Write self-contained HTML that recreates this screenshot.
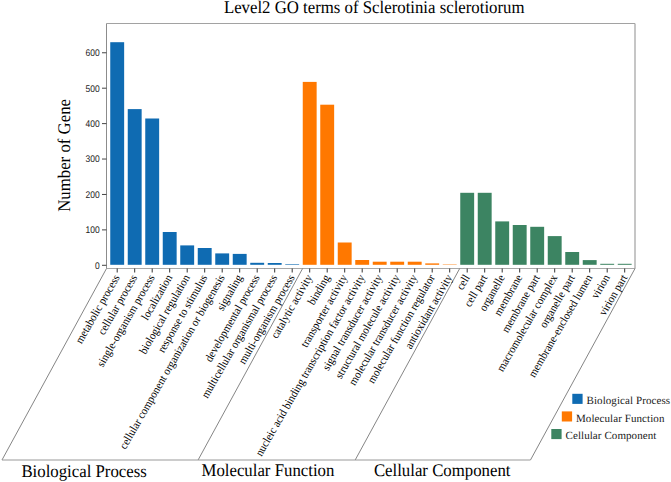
<!DOCTYPE html>
<html><head><meta charset="utf-8"><style>
html,body{margin:0;padding:0;background:#fff;width:671px;height:482px;overflow:hidden}
svg{display:block} text{text-rendering:geometricPrecision}
.big{font-family:"Liberation Serif",serif;font-size:16.8px;fill:#000}
.xl{font-family:"Liberation Serif",serif;font-size:10.85px;fill:#000}
.lg{font-family:"Liberation Serif",serif;font-size:11px;fill:#1a1a1a;letter-spacing:0.08px}
.yt{font-family:"Liberation Sans",sans-serif;font-size:9px;fill:#1a1a1a}
</style></head><body>
<svg width="671" height="482" viewBox="0 0 671 482">
<rect x="110.25" y="42.20" width="13.9" height="222.60" fill="#0f6bb2"/>
<rect x="127.75" y="109.10" width="13.9" height="155.70" fill="#0f6bb2"/>
<rect x="145.25" y="118.50" width="13.9" height="146.30" fill="#0f6bb2"/>
<rect x="162.75" y="232.00" width="13.9" height="32.80" fill="#0f6bb2"/>
<rect x="180.25" y="245.40" width="13.9" height="19.40" fill="#0f6bb2"/>
<rect x="197.75" y="248.00" width="13.9" height="16.80" fill="#0f6bb2"/>
<rect x="215.25" y="253.40" width="13.9" height="11.40" fill="#0f6bb2"/>
<rect x="232.75" y="253.90" width="13.9" height="10.90" fill="#0f6bb2"/>
<rect x="250.25" y="262.80" width="13.9" height="2.00" fill="#0f6bb2"/>
<rect x="267.75" y="263.00" width="13.9" height="1.80" fill="#0f6bb2"/>
<rect x="285.25" y="264.20" width="13.9" height="0.60" fill="#0f6bb2"/>
<rect x="302.75" y="81.90" width="13.9" height="182.90" fill="#ff7800"/>
<rect x="320.25" y="104.70" width="13.9" height="160.10" fill="#ff7800"/>
<rect x="337.75" y="242.50" width="13.9" height="22.30" fill="#ff7800"/>
<rect x="355.25" y="260.00" width="13.9" height="4.80" fill="#ff7800"/>
<rect x="372.75" y="261.70" width="13.9" height="3.10" fill="#ff7800"/>
<rect x="390.25" y="261.70" width="13.9" height="3.10" fill="#ff7800"/>
<rect x="407.75" y="261.70" width="13.9" height="3.10" fill="#ff7800"/>
<rect x="425.25" y="263.40" width="13.9" height="1.40" fill="#ff7800"/>
<rect x="442.75" y="264.40" width="13.9" height="0.40" fill="#ff7800"/>
<rect x="460.25" y="192.80" width="13.9" height="72.00" fill="#3c8462"/>
<rect x="477.75" y="192.80" width="13.9" height="72.00" fill="#3c8462"/>
<rect x="495.25" y="221.40" width="13.9" height="43.40" fill="#3c8462"/>
<rect x="512.75" y="225.00" width="13.9" height="39.80" fill="#3c8462"/>
<rect x="530.25" y="226.80" width="13.9" height="38.00" fill="#3c8462"/>
<rect x="547.75" y="236.10" width="13.9" height="28.70" fill="#3c8462"/>
<rect x="565.25" y="252.00" width="13.9" height="12.80" fill="#3c8462"/>
<rect x="582.75" y="260.10" width="13.9" height="4.70" fill="#3c8462"/>
<rect x="600.25" y="263.80" width="13.9" height="1.00" fill="#3c8462"/>
<rect x="617.75" y="263.80" width="13.9" height="1.00" fill="#3c8462"/>
<path d="M106.5,23.5 H635.0" stroke="#a2a2a2" stroke-width="1" fill="none"/>
<path d="M635.0,23.5 V268.5" stroke="#a8a8a8" stroke-width="1.3" fill="none"/>
<path d="M106.5,23.5 V268.5" stroke="#8c8c8c" stroke-width="1" fill="none"/>
<path d="M106.5,268.5 H635.0" stroke="#a8a8a8" stroke-width="1" fill="none"/>
<path d="M102,265.30 H106.5" stroke="#444" stroke-width="1"/>
<text transform="translate(99.6,268.70) scale(0.94,1.08)" text-anchor="end" class="yt">0</text>
<path d="M102,229.88 H106.5" stroke="#444" stroke-width="1"/>
<text transform="translate(99.6,233.28) scale(0.94,1.08)" text-anchor="end" class="yt">100</text>
<path d="M102,194.46 H106.5" stroke="#444" stroke-width="1"/>
<text transform="translate(99.6,197.86) scale(0.94,1.08)" text-anchor="end" class="yt">200</text>
<path d="M102,159.04 H106.5" stroke="#444" stroke-width="1"/>
<text transform="translate(99.6,162.44) scale(0.94,1.08)" text-anchor="end" class="yt">300</text>
<path d="M102,123.62 H106.5" stroke="#444" stroke-width="1"/>
<text transform="translate(99.6,127.02) scale(0.94,1.08)" text-anchor="end" class="yt">400</text>
<path d="M102,88.20 H106.5" stroke="#444" stroke-width="1"/>
<text transform="translate(99.6,91.60) scale(0.94,1.08)" text-anchor="end" class="yt">500</text>
<path d="M102,52.78 H106.5" stroke="#444" stroke-width="1"/>
<text transform="translate(99.6,56.18) scale(0.94,1.08)" text-anchor="end" class="yt">600</text>
<path d="M117.20,268.5 V272.5" stroke="#333" stroke-width="1"/>
<path d="M134.70,268.5 V272.5" stroke="#333" stroke-width="1"/>
<path d="M152.20,268.5 V272.5" stroke="#333" stroke-width="1"/>
<path d="M169.70,268.5 V272.5" stroke="#333" stroke-width="1"/>
<path d="M187.20,268.5 V272.5" stroke="#333" stroke-width="1"/>
<path d="M204.70,268.5 V272.5" stroke="#333" stroke-width="1"/>
<path d="M222.20,268.5 V272.5" stroke="#333" stroke-width="1"/>
<path d="M239.70,268.5 V272.5" stroke="#333" stroke-width="1"/>
<path d="M257.20,268.5 V272.5" stroke="#333" stroke-width="1"/>
<path d="M274.70,268.5 V272.5" stroke="#333" stroke-width="1"/>
<path d="M292.20,268.5 V272.5" stroke="#333" stroke-width="1"/>
<path d="M309.70,268.5 V272.5" stroke="#333" stroke-width="1"/>
<path d="M327.20,268.5 V272.5" stroke="#333" stroke-width="1"/>
<path d="M344.70,268.5 V272.5" stroke="#333" stroke-width="1"/>
<path d="M362.20,268.5 V272.5" stroke="#333" stroke-width="1"/>
<path d="M379.70,268.5 V272.5" stroke="#333" stroke-width="1"/>
<path d="M397.20,268.5 V272.5" stroke="#333" stroke-width="1"/>
<path d="M414.70,268.5 V272.5" stroke="#333" stroke-width="1"/>
<path d="M432.20,268.5 V272.5" stroke="#333" stroke-width="1"/>
<path d="M449.70,268.5 V272.5" stroke="#333" stroke-width="1"/>
<path d="M467.20,268.5 V272.5" stroke="#333" stroke-width="1"/>
<path d="M484.70,268.5 V272.5" stroke="#333" stroke-width="1"/>
<path d="M502.20,268.5 V272.5" stroke="#333" stroke-width="1"/>
<path d="M519.70,268.5 V272.5" stroke="#333" stroke-width="1"/>
<path d="M537.20,268.5 V272.5" stroke="#333" stroke-width="1"/>
<path d="M554.70,268.5 V272.5" stroke="#333" stroke-width="1"/>
<path d="M572.20,268.5 V272.5" stroke="#333" stroke-width="1"/>
<path d="M589.70,268.5 V272.5" stroke="#333" stroke-width="1"/>
<path d="M607.20,268.5 V272.5" stroke="#333" stroke-width="1"/>
<path d="M624.70,268.5 V272.5" stroke="#333" stroke-width="1"/>
<path d="M106.5,268.5 L1.98,460.0" stroke="#777" stroke-width="0.9" fill="none"/>
<path d="M302.6,268.5 L198.08,460.0" stroke="#777" stroke-width="0.9" fill="none"/>
<path d="M459.7,268.5 L355.18,460.0" stroke="#777" stroke-width="0.9" fill="none"/>
<path d="M635.0,268.5 L530.48,460.0" stroke="#777" stroke-width="0.9" fill="none"/>
<path d="M1.98,460.0 H530.48" stroke="#9a9a9a" stroke-width="1.2" fill="none"/>
<text transform="translate(120.20,277.30) rotate(-60) scale(0.995,1.06)" text-anchor="end" class="xl">metabolic process</text>
<text transform="translate(137.70,277.30) rotate(-60) scale(0.995,1.06)" text-anchor="end" class="xl">cellular process</text>
<text transform="translate(155.20,277.30) rotate(-60) scale(0.995,1.06)" text-anchor="end" class="xl">single-organism process</text>
<text transform="translate(172.70,277.30) rotate(-60) scale(0.995,1.06)" text-anchor="end" class="xl">localization</text>
<text transform="translate(190.20,277.30) rotate(-60) scale(0.995,1.06)" text-anchor="end" class="xl">biological regulation</text>
<text transform="translate(207.70,277.30) rotate(-60) scale(0.995,1.06)" text-anchor="end" class="xl">response to stimulus</text>
<text transform="translate(225.20,277.30) rotate(-60) scale(0.995,1.06)" text-anchor="end" class="xl">cellular component organization or biogenesis</text>
<text transform="translate(242.70,277.30) rotate(-60) scale(0.995,1.06)" text-anchor="end" class="xl">signaling</text>
<text transform="translate(260.20,277.30) rotate(-60) scale(0.995,1.06)" text-anchor="end" class="xl">developmental process</text>
<text transform="translate(277.70,277.30) rotate(-60) scale(0.995,1.06)" text-anchor="end" class="xl">multicellular organismal process</text>
<text transform="translate(295.20,277.30) rotate(-60) scale(0.995,1.06)" text-anchor="end" class="xl">multi-organism process</text>
<text transform="translate(312.70,277.30) rotate(-60) scale(0.995,1.06)" text-anchor="end" class="xl">catalytic activity</text>
<text transform="translate(330.20,277.30) rotate(-60) scale(0.995,1.06)" text-anchor="end" class="xl">binding</text>
<text transform="translate(347.70,277.30) rotate(-60) scale(0.995,1.06)" text-anchor="end" class="xl">transporter activity</text>
<text transform="translate(365.20,277.30) rotate(-60) scale(0.995,1.06)" text-anchor="end" class="xl">nucleic acid binding transcription factor activity</text>
<text transform="translate(382.70,277.30) rotate(-60) scale(0.995,1.06)" text-anchor="end" class="xl">signal transducer activity</text>
<text transform="translate(400.20,277.30) rotate(-60) scale(0.995,1.06)" text-anchor="end" class="xl">structural molecule activity</text>
<text transform="translate(417.70,277.30) rotate(-60) scale(0.995,1.06)" text-anchor="end" class="xl">molecular transducer activity</text>
<text transform="translate(435.20,277.30) rotate(-60) scale(0.995,1.06)" text-anchor="end" class="xl">molecular function regulator</text>
<text transform="translate(452.70,277.30) rotate(-60) scale(0.995,1.06)" text-anchor="end" class="xl">antioxidant activity</text>
<text transform="translate(470.20,277.30) rotate(-60) scale(0.995,1.06)" text-anchor="end" class="xl">cell</text>
<text transform="translate(487.70,277.30) rotate(-60) scale(0.995,1.06)" text-anchor="end" class="xl">cell part</text>
<text transform="translate(505.20,277.30) rotate(-60) scale(0.995,1.06)" text-anchor="end" class="xl">organelle</text>
<text transform="translate(522.70,277.30) rotate(-60) scale(0.995,1.06)" text-anchor="end" class="xl">membrane</text>
<text transform="translate(540.20,277.30) rotate(-60) scale(0.995,1.06)" text-anchor="end" class="xl">membrane part</text>
<text transform="translate(557.70,277.30) rotate(-60) scale(0.995,1.06)" text-anchor="end" class="xl">macromolecular complex</text>
<text transform="translate(575.20,277.30) rotate(-60) scale(0.995,1.06)" text-anchor="end" class="xl">organelle part</text>
<text transform="translate(592.70,277.30) rotate(-60) scale(0.995,1.06)" text-anchor="end" class="xl">membrane-enclosed lumen</text>
<text transform="translate(610.20,277.30) rotate(-60) scale(0.995,1.06)" text-anchor="end" class="xl">virion</text>
<text transform="translate(627.70,277.30) rotate(-60) scale(0.995,1.06)" text-anchor="end" class="xl">virion part</text>
<text transform="translate(223.9,12.8) scale(1,1.06)" class="big">Level2 GO terms of Sclerotinia sclerotiorum</text>
<text transform="translate(69.7,211.8) rotate(-90) scale(1,1.06)" class="big">Number of Gene</text>
<text transform="translate(21.4,477.0) scale(1,1.06)" class="big">Biological Process</text>
<text transform="translate(201.5,475.8) scale(1,1.06)" class="big">Molecular Function</text>
<text transform="translate(373.9,475.8) scale(1,1.06)" class="big">Cellular Component</text>
<rect x="572.30" y="393.80" width="10.3" height="10.1" fill="#0f6bb2"/>
<text x="586.50" y="403.90" class="lg">Biological Process</text>
<rect x="561.80" y="411.40" width="10.3" height="10.1" fill="#ff7800"/>
<text x="576.00" y="421.50" class="lg">Molecular Function</text>
<rect x="551.30" y="429.00" width="10.3" height="10.1" fill="#3c8462"/>
<text x="565.50" y="439.10" class="lg">Cellular Component</text>
</svg>
</body></html>
